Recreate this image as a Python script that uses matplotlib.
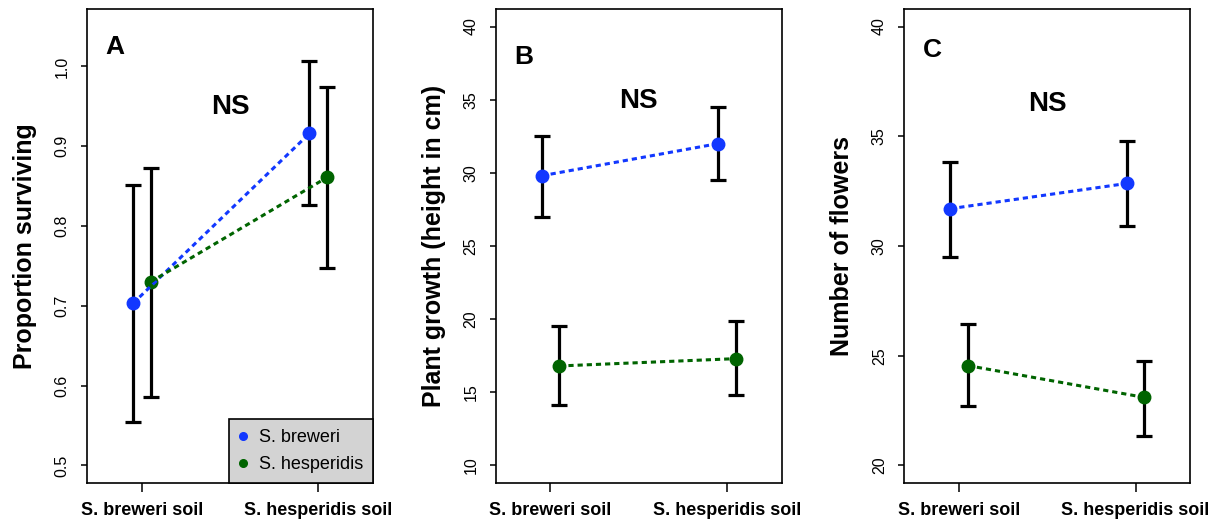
import matplotlib
matplotlib.use("Agg")
import matplotlib.pyplot as plt
from matplotlib.lines import Line2D

plt.rcParams['font.family'] = ['Liberation Sans', 'DejaVu Sans']

soils = ["S. breweri soil", "S. hesperidis soil"]
species = ["S. breweri", "S. hesperidis"]
colors = ["#1238ff", "#006400"]

# Panel A: proportion surviving
surv_mean = {"S. breweri": [0.703, 0.916], "S. hesperidis": [0.730, 0.861]}
surv_lo = {"S. breweri": [0.555, 0.826], "S. hesperidis": [0.586, 0.748]}
surv_hi = {"S. breweri": [0.851, 1.007], "S. hesperidis": [0.873, 0.974]}

# Panel B: plant growth
grow_mean = {"S. breweri": [29.8, 32.0], "S. hesperidis": [16.8, 17.3]}
grow_lo = {"S. breweri": [27.0, 29.5], "S. hesperidis": [14.1, 14.8]}
grow_hi = {"S. breweri": [32.5, 34.5], "S. hesperidis": [19.55, 19.9]}

# Panel C: number of flowers
flow_mean = {"S. breweri": [31.7, 32.85], "S. hesperidis": [24.55, 23.1]}
flow_lo = {"S. breweri": [29.5, 30.9], "S. hesperidis": [22.7, 21.35]}
flow_hi = {"S. breweri": [33.85, 34.8], "S. hesperidis": [26.45, 24.75]}

panels = [
    ("A", "Proportion surviving", surv_mean, surv_lo, surv_hi, (0.5, 1.05), [0.5, 0.6, 0.7, 0.8, 0.9, 1.0], ["0.5", "0.6", "0.7", "0.8", "0.9", "1.0"]),
    ("B", "Plant growth (height in cm)", grow_mean, grow_lo, grow_hi, (10, 40), [10, 15, 20, 25, 30, 35, 40], ["10", "15", "20", "25", "30", "35", "40"]),
    ("C", "Number of flowers", flow_mean, flow_lo, flow_hi, (20, 40), [20, 25, 30, 35, 40], ["20", "25", "30", "35", "40"]),
]

W, H = 1219, 527
fig = plt.figure(figsize=(W / 100, H / 100), dpi=100)
lefts = [87, 495.7, 904.3]
offsets = [-0.05, 0.05]
letter_y = [0.92, 0.899, 0.913]
ns_y = [0.793, 0.805, 0.80]

def ext(lo, hi):
    d = (hi - lo) * 0.04
    return lo - d, hi + d

for i, (letter, ylabel, mean, lo, hi, ylim, yt, ytl) in enumerate(panels):
    ax = fig.add_axes([lefts[i] / W, (H - 483) / H, 286 / W, 474 / H])
    x_base = [1, 2]
    for s, sp in enumerate(species):
        xs = [x + offsets[s] for x in x_base]
        m = mean[sp]
        yerr = [[m[k] - lo[sp][k] for k in range(2)], [hi[sp][k] - m[k] for k in range(2)]]
        ax.errorbar(xs, m, yerr=yerr, fmt='none', ecolor='black', elinewidth=2.3,
                    capsize=5.5, capthick=2.3, zorder=2)
        ax.plot(xs, m, 'o', color=colors[s], ms=9, mec=colors[s], zorder=3)
    for s, sp in enumerate(species):
        xs = [x + offsets[s] for x in x_base]
        ax.plot(xs, mean[sp], color=colors[s], lw=2.2, ls=(0, (1.7, 1.3)), zorder=4)
    ax.set_xlim(*ext(0.75, 2.25))
    ax.set_ylim(*ext(*ylim))
    ax.set_xticks(x_base)
    ax.set_xticklabels(soils, fontsize=13, fontweight='bold')
    ax.set_yticks(yt)
    ax.set_yticklabels(ytl, fontsize=11.5, rotation=90, va='center')
    ax.tick_params(axis='x', length=6.5, width=1.1, direction='out', pad=7)
    ax.tick_params(axis='y', length=4.5, width=1.1, direction='out', pad=8)
    for sp_ in ax.spines.values():
        sp_.set_linewidth(1.2)
    ax.set_ylabel(ylabel, fontsize=18, fontweight='bold')
    ax.yaxis.set_label_coords(-0.175, 0.5)
    ax.text(0.098, letter_y[i], letter, transform=ax.transAxes, fontsize=19,
            fontweight='bold', ha='center', va='center')
    ax.text(0.5, ns_y[i], "NS", transform=ax.transAxes, fontsize=20,
            fontweight='bold', ha='center', va='center')
    if i == 0:
        handles = [Line2D([], [], ls='none', marker='o', ms=5.5, color=c) for c in colors]
        leg = ax.legend(handles, species, loc='lower right', fontsize=13, frameon=True,
                        fancybox=False, facecolor='#d3d3d3', edgecolor='black', framealpha=1,
                        borderaxespad=0, handlelength=0.5, handletextpad=0.6,
                        labelspacing=0.55, borderpad=0.55)
        leg.get_frame().set_linewidth(1.2)

fig.savefig("out.png", dpi=100)
